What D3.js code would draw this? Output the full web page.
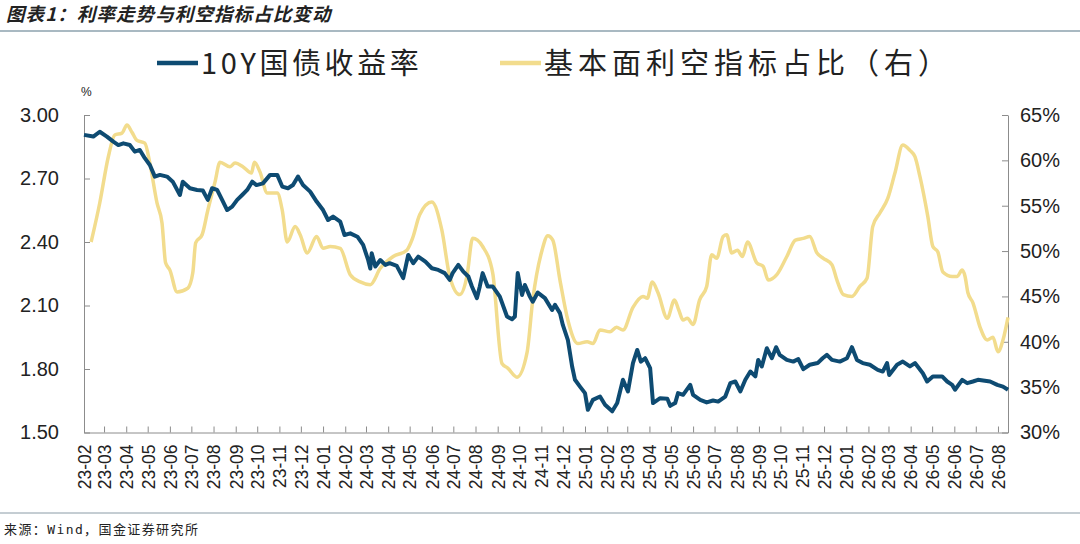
<!DOCTYPE html>
<html>
<head>
<meta charset="utf-8">
<script src="https://cdn.jsdelivr.net/npm/d3@7/dist/d3.min.js"></script>
<style>
  html, body { margin: 0; padding: 0; background: #fff; }
  svg { display: block; }
  text { font-family: "Liberation Sans", Arial, "Noto Sans CJK SC", sans-serif; fill: #222; }
  .cjk { font-family: "Noto Sans CJK SC", sans-serif; }
  .src { font-family: "DejaVu Sans Mono", "Noto Sans CJK SC", monospace; }
</style>
</head>
<body>
<div id="chart"></div>
<script>
// 10Y 国债收益率 (左轴, %)
const yieldDates = [
  '2023-02-01', '2023-02-14', '2023-02-23', '2023-03-05', '2023-03-14', '2023-03-21', '2023-03-28', '2023-04-06',
  '2023-04-13', '2023-04-20', '2023-04-27', '2023-05-04', '2023-05-11', '2023-05-18', '2023-05-28', '2023-06-05',
  '2023-06-15', '2023-06-19', '2023-06-29', '2023-07-09', '2023-07-17', '2023-07-24', '2023-07-30', '2023-08-06',
  '2023-08-13', '2023-08-20', '2023-08-27', '2023-09-03', '2023-09-10', '2023-09-17', '2023-09-24', '2023-09-30',
  '2023-10-09', '2023-10-19', '2023-10-29', '2023-11-05', '2023-11-13', '2023-11-20', '2023-11-27', '2023-12-04',
  '2023-12-14', '2023-12-23', '2024-01-01', '2024-01-08', '2024-01-15', '2024-01-25', '2024-01-31', '2024-02-08',
  '2024-02-18', '2024-02-26', '2024-03-04', '2024-03-07', '2024-03-09', '2024-03-14', '2024-03-21', '2024-03-28',
  '2024-04-03', '2024-04-13', '2024-04-22', '2024-04-29', '2024-05-06', '2024-05-13', '2024-05-23', '2024-06-01',
  '2024-06-10', '2024-06-19', '2024-06-26', '2024-06-30', '2024-07-08', '2024-07-15', '2024-07-22', '2024-07-27',
  '2024-08-03', '2024-08-07', '2024-08-11', '2024-08-18', '2024-08-25', '2024-09-04', '2024-09-14', '2024-09-21',
  '2024-09-25', '2024-09-29', '2024-10-05', '2024-10-09', '2024-10-16', '2024-10-20', '2024-10-27', '2024-11-06',
  '2024-11-16', '2024-11-20', '2024-11-27', '2024-12-01', '2024-12-08', '2024-12-14', '2024-12-18', '2024-12-25',
  '2025-01-01', '2025-01-05', '2025-01-12', '2025-01-22', '2025-01-29', '2025-02-08', '2025-02-15', '2025-02-23',
  '2025-03-02', '2025-03-09', '2025-03-15', '2025-03-20', '2025-03-26', '2025-04-02', '2025-04-06', '2025-04-16',
  '2025-04-26', '2025-04-30', '2025-05-07', '2025-05-11', '2025-05-18', '2025-05-28', '2025-06-01', '2025-06-11',
  '2025-06-20', '2025-06-29', '2025-07-06', '2025-07-16', '2025-07-23', '2025-07-30', '2025-08-06', '2025-08-13',
  '2025-08-20', '2025-08-27', '2025-08-31', '2025-09-05', '2025-09-12', '2025-09-19', '2025-09-25', '2025-09-30',
  '2025-10-10', '2025-10-19', '2025-10-26', '2025-11-02', '2025-11-11', '2025-11-22', '2025-11-29', '2025-12-05',
  '2025-12-12', '2025-12-23', '2026-01-02', '2026-01-09', '2026-01-16', '2026-01-24', '2026-02-03', '2026-02-14',
  '2026-02-21', '2026-02-27', '2026-03-02', '2026-03-13', '2026-03-21', '2026-03-31', '2026-04-07', '2026-04-18',
  '2026-04-24', '2026-05-02', '2026-05-15', '2026-05-22', '2026-05-29', '2026-06-02', '2026-06-12', '2026-06-19',
  '2026-06-27', '2026-07-04', '2026-07-21', '2026-07-31', '2026-08-08', '2026-08-15'
]
const yieldValues = [
  2.906, 2.898, 2.921, 2.898, 2.874, 2.858, 2.866, 2.858,
  2.827, 2.835, 2.796, 2.764, 2.709, 2.717, 2.709, 2.685,
  2.622, 2.685, 2.654, 2.646, 2.643, 2.599, 2.654, 2.646,
  2.599, 2.551, 2.567, 2.599, 2.622, 2.646, 2.685, 2.669,
  2.677, 2.717, 2.717, 2.662, 2.654, 2.669, 2.709, 2.669,
  2.638, 2.591, 2.551, 2.504, 2.520, 2.496, 2.433, 2.441,
  2.425, 2.386, 2.315, 2.275, 2.347, 2.284, 2.315, 2.292,
  2.300, 2.287, 2.229, 2.339, 2.300, 2.331, 2.307, 2.276,
  2.268, 2.253, 2.221, 2.253, 2.292, 2.260, 2.237, 2.190,
  2.135, 2.190, 2.253, 2.190, 2.190, 2.142, 2.048, 2.035,
  2.048, 2.253, 2.150, 2.197, 2.142, 2.118, 2.161, 2.135,
  2.079, 2.103, 2.064, 2.008, 1.938, 1.812, 1.749, 1.717,
  1.686, 1.607, 1.654, 1.670, 1.631, 1.600, 1.639, 1.749,
  1.694, 1.828, 1.890, 1.835, 1.851, 1.804, 1.639, 1.662,
  1.660, 1.626, 1.639, 1.686, 1.678, 1.725, 1.678, 1.654,
  1.642, 1.651, 1.646, 1.670, 1.733, 1.741, 1.694, 1.749,
  1.788, 1.765, 1.843, 1.812, 1.898, 1.851, 1.903, 1.867,
  1.843, 1.835, 1.847, 1.799, 1.820, 1.828, 1.851, 1.867,
  1.843, 1.835, 1.851, 1.903, 1.843, 1.828, 1.820, 1.796,
  1.788, 1.828, 1.772, 1.820, 1.835, 1.812, 1.828, 1.780,
  1.741, 1.765, 1.765, 1.741, 1.725, 1.702, 1.749, 1.733,
  1.741, 1.749, 1.741, 1.725, 1.717, 1.702
]

// 基本面利空指标占比 (右轴, %)
const bearDates = [
  '2023-02-11', '2023-02-23', '2023-03-07', '2023-03-16', '2023-03-26', '2023-04-02', '2023-04-09', '2023-04-16',
  '2023-04-27', '2023-05-04', '2023-05-14', '2023-05-21', '2023-05-26', '2023-06-01', '2023-06-11', '2023-06-26',
  '2023-07-03', '2023-07-07', '2023-07-16', '2023-07-24', '2023-08-03', '2023-08-10', '2023-08-24', '2023-08-31',
  '2023-09-11', '2023-09-23', '2023-09-27', '2023-10-05', '2023-10-15', '2023-10-29', '2023-11-05', '2023-11-12',
  '2023-11-23', '2023-11-30', '2023-12-10', '2023-12-23', '2024-01-01', '2024-01-11', '2024-01-25', '2024-02-08',
  '2024-02-22', '2024-03-07', '2024-03-21', '2024-04-08', '2024-04-27', '2024-05-05', '2024-05-15', '2024-06-01',
  '2024-06-15', '2024-06-26', '2024-07-10', '2024-07-20', '2024-07-28', '2024-08-11', '2024-08-25', '2024-09-07',
  '2024-09-15', '2024-09-28', '2024-10-12', '2024-10-20', '2024-11-02', '2024-11-10', '2024-11-17', '2024-11-27',
  '2024-12-08', '2024-12-22', '2025-01-04', '2025-01-12', '2025-01-22', '2025-02-05', '2025-02-14', '2025-02-23',
  '2025-03-09', '2025-03-23', '2025-03-29', '2025-04-05', '2025-04-13', '2025-04-26', '2025-05-06', '2025-05-12',
  '2025-05-18', '2025-05-24', '2025-06-01', '2025-06-10', '2025-06-20', '2025-06-27', '2025-07-04', '2025-07-13',
  '2025-07-18', '2025-07-25', '2025-08-02', '2025-08-09', '2025-08-16', '2025-08-29', '2025-09-07', '2025-09-14',
  '2025-09-26', '2025-10-10', '2025-10-22', '2025-11-02', '2025-11-11', '2025-11-21', '2025-11-30', '2025-12-12',
  '2025-12-19', '2025-12-28', '2026-01-09', '2026-01-20', '2026-01-30', '2026-02-07', '2026-02-17', '2026-02-28',
  '2026-03-10', '2026-03-21', '2026-03-31', '2026-04-07', '2026-04-14', '2026-04-25', '2026-05-02', '2026-05-09',
  '2026-05-16', '2026-05-29', '2026-06-05', '2026-06-12', '2026-06-16', '2026-06-20', '2026-06-27', '2026-07-07',
  '2026-07-17', '2026-07-25', '2026-08-01', '2026-08-08', '2026-08-15'
]
const bearValues = [
  51.0, 55.3, 60.4, 62.8, 63.0, 63.9, 63.1, 62.2,
  61.9, 59.7, 55.3, 53.1, 48.7, 47.9, 45.5, 45.9,
  47.6, 50.9, 51.8, 54.5, 57.6, 59.8, 59.3, 59.7,
  59.3, 58.6, 59.8, 58.7, 56.4, 56.4, 54.5, 51.0,
  52.7, 51.8, 49.8, 51.6, 50.3, 50.5, 50.3, 47.4,
  46.6, 46.3, 48.1, 49.4, 50.1, 51.4, 54.0, 55.4,
  52.3, 47.2, 45.2, 47.2, 51.4, 50.5, 47.6, 37.6,
  37.1, 36.1, 38.8, 44.6, 50.1, 51.7, 51.2, 46.8,
  42.4, 39.8, 40.0, 39.8, 41.3, 41.1, 41.6, 41.3,
  43.8, 45.0, 44.8, 46.6, 45.4, 42.6, 44.6, 43.5,
  42.4, 42.6, 41.9, 44.6, 46.1, 49.6, 49.2, 51.6,
  51.8, 49.8, 50.1, 49.4, 51.0, 48.7, 48.3, 46.8,
  47.4, 49.4, 51.2, 51.4, 51.6, 49.8, 49.2, 48.5,
  46.8, 45.2, 45.0, 46.1, 47.0, 52.7, 54.2, 55.8,
  58.6, 61.7, 61.1, 60.4, 58.2, 53.8, 50.5, 49.9,
  47.7, 47.2, 47.2, 47.9, 47.2, 45.4, 44.3, 41.6,
  40.2, 40.5, 38.9, 40.2, 42.7
]

const monthLabels = [
  '23-02', '23-03', '23-04', '23-05', '23-06', '23-07', '23-08', '23-09', '23-10', '23-11', '23-12',
  '24-01', '24-02', '24-03', '24-04', '24-05', '24-06', '24-07', '24-08', '24-09', '24-10', '24-11', '24-12',
  '25-01', '25-02', '25-03', '25-04', '25-05', '25-06', '25-07', '25-08', '25-09', '25-10', '25-11', '25-12',
  '26-01', '26-02', '26-03', '26-04', '26-05', '26-06', '26-07', '26-08'
]
const leftTicks = [1.50, 1.80, 2.10, 2.40, 2.70, 3.00]
const rightTicks = [30, 35, 40, 45, 50, 55, 60, 65]

const width = 1080
const height = 544
const plot = { left: 84, right: 1008, top: 115, bottom: 432.5 }
const blue = '#0e4b72'
const yellow = '#f2dc8d'
const axisColor = '#8c8c8c'

const parseDay = d3.timeParse('%Y-%m-%d')
const parseMonth = d3.timeParse('%y-%m')

const svg = d3.select('#chart')
  .append('svg')
  .attr('width', width)
  .attr('height', height)

// header / footer
svg.append('text')
  .attr('class', 'cjk')
  .attr('x', 6)
  .attr('y', 21)
  .attr('font-size', 18.5)
  .attr('letter-spacing', 1.1)
  .attr('font-weight', 'bold')
  .attr('font-style', 'italic')
  .attr('fill', '#333')
  .text('图表1：利率走势与利空指标占比变动')

svg.append('line')
  .attr('x1', 0).attr('x2', width)
  .attr('y1', 31).attr('y2', 31)
  .attr('stroke', '#a9b9c2')
  .attr('stroke-width', 2)

svg.append('line')
  .attr('x1', 0).attr('x2', width)
  .attr('y1', 513).attr('y2', 513)
  .attr('stroke', '#8a9ba6')
  .attr('stroke-width', 1)

svg.append('text')
  .attr('class', 'src')
  .attr('x', 4)
  .attr('y', 534)
  .attr('font-size', 13)
  .attr('letter-spacing', 1.4)
  .attr('fill', '#333')
  .text('来源：Wind，国金证券研究所')

// scales
const x = d3.scaleTime()
  .domain([parseDay('2023-02-01'), parseDay('2026-08-15')])
  .range([plot.left, plot.right])

const yL = d3.scaleLinear()
  .domain([1.5, 3.0])
  .range([plot.bottom, plot.top])

const yR = d3.scaleLinear()
  .domain([30, 65])
  .range([plot.bottom, plot.top])

// axes
const xAxis = d3.axisBottom(x)
  .tickValues(monthLabels.map(parseMonth))
  .tickFormat(d3.timeFormat('%y-%m'))
  .tickSizeInner(-6)
  .tickSizeOuter(0)

const gx = svg.append('g')
  .attr('transform', `translate(0, ${plot.bottom})`)
  .call(xAxis)
gx.selectAll('text')
  .attr('font-size', 17.5)
  .attr('fill', '#222')
  .attr('text-anchor', 'end')
  .attr('transform', 'rotate(-90)')
  .attr('x', -12)
  .attr('y', 0)
  .attr('dy', '0.36em')

const gl = svg.append('g')
  .attr('transform', `translate(${plot.left}, 0)`)
  .call(d3.axisLeft(yL)
    .tickValues(leftTicks)
    .tickFormat(d3.format('.2f'))
    .tickSizeInner(-6)
    .tickSizeOuter(0)
    .tickPadding(25))
gl.selectAll('text').attr('font-size', 20).attr('fill', '#222')

const gr = svg.append('g')
  .attr('transform', `translate(${plot.right}, 0)`)
  .call(d3.axisRight(yR)
    .tickValues(rightTicks)
    .tickFormat(d => d + '%')
    .tickSizeInner(-6)
    .tickSizeOuter(0)
    .tickPadding(12))
gr.selectAll('text').attr('font-size', 20).attr('fill', '#222')

svg.selectAll('.domain, .tick line').attr('stroke', axisColor)

svg.append('text')
  .attr('x', plot.left - 3)
  .attr('y', 96)
  .attr('font-size', 12)
  .attr('fill', '#666')
  .text('%')

// lines
const bearLine = d3.line()
  .x((d, i) => x(parseDay(bearDates[i])))
  .y(d => yR(d))
  .curve(d3.curveMonotoneX)

const yieldLine = d3.line()
  .x((d, i) => x(parseDay(yieldDates[i])))
  .y(d => yL(d))

svg.append('path')
  .datum(bearValues)
  .attr('d', bearLine)
  .attr('fill', 'none')
  .attr('stroke', yellow)
  .attr('stroke-width', 3.5)
  .attr('stroke-linejoin', 'round')

svg.append('path')
  .datum(yieldValues)
  .attr('d', yieldLine)
  .attr('fill', 'none')
  .attr('stroke', blue)
  .attr('stroke-width', 4)
  .attr('stroke-linejoin', 'round')

// legend
const legend = svg.append('g')
legend.append('line')
  .attr('x1', 157).attr('x2', 198)
  .attr('y1', 63).attr('y2', 63)
  .attr('stroke', blue)
  .attr('stroke-width', 4.5)
legend.append('text')
  .attr('class', 'cjk')
  .attr('x', 201)
  .attr('y', 74)
  .attr('font-size', 29)
  .attr('letter-spacing', 3.6)
  .text('10Y国债收益率')

legend.append('line')
  .attr('x1', 500).attr('x2', 541)
  .attr('y1', 63).attr('y2', 63)
  .attr('stroke', yellow)
  .attr('stroke-width', 4.5)
legend.append('text')
  .attr('class', 'cjk')
  .attr('x', 544)
  .attr('y', 74)
  .attr('font-size', 29)
  .attr('letter-spacing', 5)
  .text('基本面利空指标占比（右）')
</script>
</body>
</html>
